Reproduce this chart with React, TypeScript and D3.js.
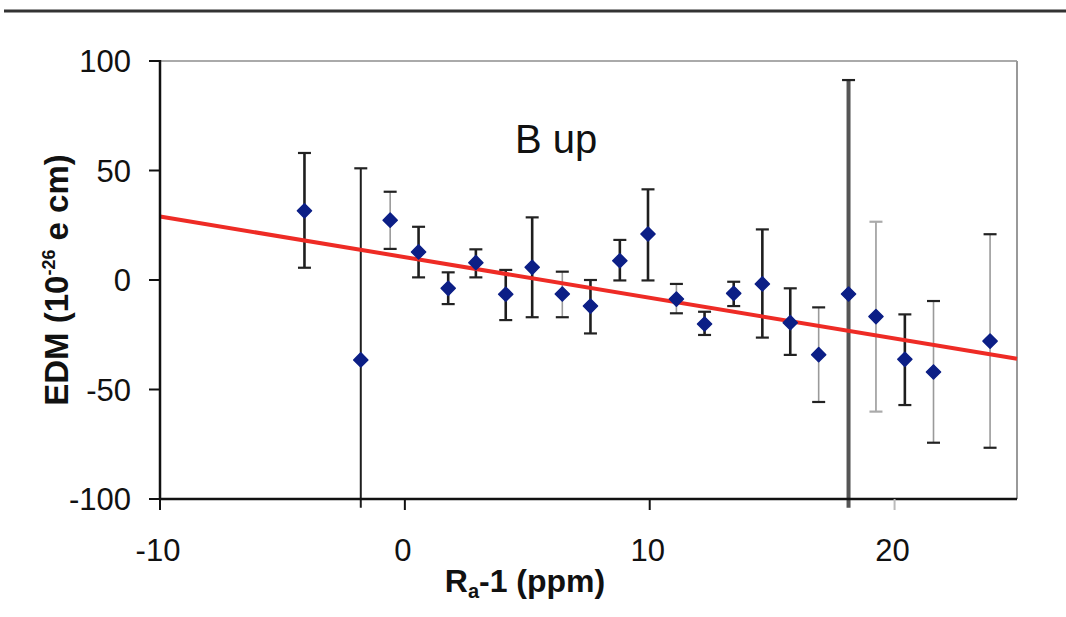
import React from 'react';
import * as d3 from 'd3';

// Ra-1 (ppm) for each run
const ra = [-4.1, -1.8, -0.6, 0.56, 1.77, 2.9, 4.12, 5.2, 6.43, 7.58, 8.78, 9.93, 11.09, 12.24, 13.43, 14.6, 15.74, 16.9, 18.12, 19.24, 20.42, 21.59, 23.9];
// EDM (1e-26 e cm)
const edm = [31.6, -36.5, 27.3, 12.8, -3.8, 7.9, -6.5, 5.8, -6.4, -11.9, 8.8, 21, -8.7, -20.1, -6.1, -1.8, -19.5, -34.1, -6.4, -16.7, -36.2, -42, -27.9];
const errHigh = [58, 51, 40.3, 24.3, 3.5, 14, 4.6, 28.6, 3.8, 0, 18.3, 41.4, -1.8, -14.5, -0.8, 23.1, -3.8, -12.5, 91.3, 26.6, -15.7, -9.6, 20.9];
const errLow = [5.6, -104, 14.2, 1.2, -11, 1.2, -18.3, -17, -17, -24.4, -0.2, -0.2, -15.2, -25.1, -11.9, -26.3, -34.2, -55.7, -104, -60.1, -57.1, -74.3, -76.6];

// linear fit endpoints
const fitX = [-10, 25];
const fitY = [29, -36];

const xTicks = [-10, 0, 10, 20];
const yTicks = [-100, -50, 0, 50, 100];

// bar styling (which error bars are drawn lighter in the original)
const faint = new Set([2, 8, 12, 17, 19, 21, 22]);

const W = 1066;
const H = 617;
const m = { left: 160, right: 1017, top: 61, bottom: 499 };

export default function App() {
  const x = d3.scaleLinear().domain([-10, 25]).range([m.left, m.right]);
  const y = d3.scaleLinear().domain([-100, 100]).range([m.bottom, m.top]);

  const fitLine = d3.line<number>()
    .x((d) => x(d))
    .y((_, i) => y(fitY[i]));

  const diamond = d3.symbol().type(d3.symbolSquare).size(100)();
  const font = 'Liberation Sans, Arial, sans-serif';

  return (
    <svg width={W} height={H} style={{ position: 'absolute', left: 0, top: 0, background: '#fff' }}>
      {/* top rule */}
      <line x1={4} x2={W} y1={11} y2={11} stroke="#333" strokeWidth={3} />

      {/* frame */}
      <line x1={m.left} x2={m.right} y1={m.top} y2={m.top} stroke="#aaa" strokeWidth={2} />
      <line x1={m.right} x2={m.right} y1={m.top} y2={m.bottom} stroke="#999" strokeWidth={2} />

      {/* error bars */}
      {ra.map((r, i) => {
        const cx = x(r);
        const isFaint = faint.has(i);
        const big = i === 18;
        const col = big ? '#555' : isFaint ? '#9a9a9a' : '#1e1e1e';
        const sw = big ? 4 : i === 1 ? 2 : isFaint ? 1.6 : 2.6;
        const capCol = i === 19 ? '#aaa' : '#222';
        const caps = [errHigh[i], errLow[i]].filter((v) => v >= -100 && v <= 100);
        return (
          <g key={'e' + i}>
            <line x1={cx} x2={cx} y1={y(errHigh[i])} y2={Math.min(y(errLow[i]), m.bottom + 10)} stroke={col} strokeWidth={sw} />
            {caps.map((v, j) => (
              <line key={j} x1={cx - 6.5} x2={cx + 6.5} y1={y(v)} y2={y(v)} stroke={capCol} strokeWidth={2.2} />
            ))}
          </g>
        );
      })}

      {/* fit line */}
      <path d={fitLine(fitX) || ''} fill="none" stroke="#ee2b25" strokeWidth={4} />

      {/* points */}
      {ra.map((r, i) => (
        <path key={'p' + i} d={diamond || ''} transform={`translate(${x(r)},${y(edm[i])}) rotate(45)`}
          fill="#0c1f86" stroke="#0c1f86" strokeWidth={1.5} strokeLinejoin="round" />
      ))}

      {/* axes */}
      <line x1={m.left} x2={m.left} y1={m.top - 1} y2={m.bottom + 1} stroke="#111" strokeWidth={2.5} />
      <line x1={m.left - 1} x2={m.right} y1={m.bottom} y2={m.bottom} stroke="#111" strokeWidth={2.5} />

      {yTicks.map((t) => (
        <g key={'y' + t}>
          <line x1={m.left - 11} x2={m.left} y1={y(t)} y2={y(t)} stroke="#111" strokeWidth={2} />
          <text x={131} y={y(t)} dy="0.36em" textAnchor="end" fontFamily={font} fontSize={31} fill="#111">
            {t}
          </text>
        </g>
      ))}

      {xTicks.map((t) => (
        <g key={'x' + t}>
          <line x1={x(t)} x2={x(t)} y1={m.bottom} y2={m.bottom + 11} stroke={t === 20 ? '#bbb' : '#111'} strokeWidth={2} />
          <text x={x(t) - 2} y={561} textAnchor="middle" fontFamily={font} fontSize={31} fill="#111">
            {t}
          </text>
        </g>
      ))}

      {/* annotation */}
      <text x={515} y={153} fontFamily={font} fontSize={40} fill="#111">B up</text>

      {/* axis titles */}
      <text x={525} y={592} textAnchor="middle" fontFamily={font} fontSize={32} fontWeight="bold" fill="#111">
        R<tspan fontSize={20} dy={6}>a</tspan><tspan dy={-6}>-1 (ppm)</tspan>
      </text>
      <text transform="translate(68,280) rotate(-90)" textAnchor="middle" fontFamily={font} fontSize={33} fontWeight="bold" fill="#111">
        EDM (10<tspan fontSize={18} dy={-13}>-26</tspan><tspan dy={13}> e cm)</tspan>
      </text>
    </svg>
  );
}
